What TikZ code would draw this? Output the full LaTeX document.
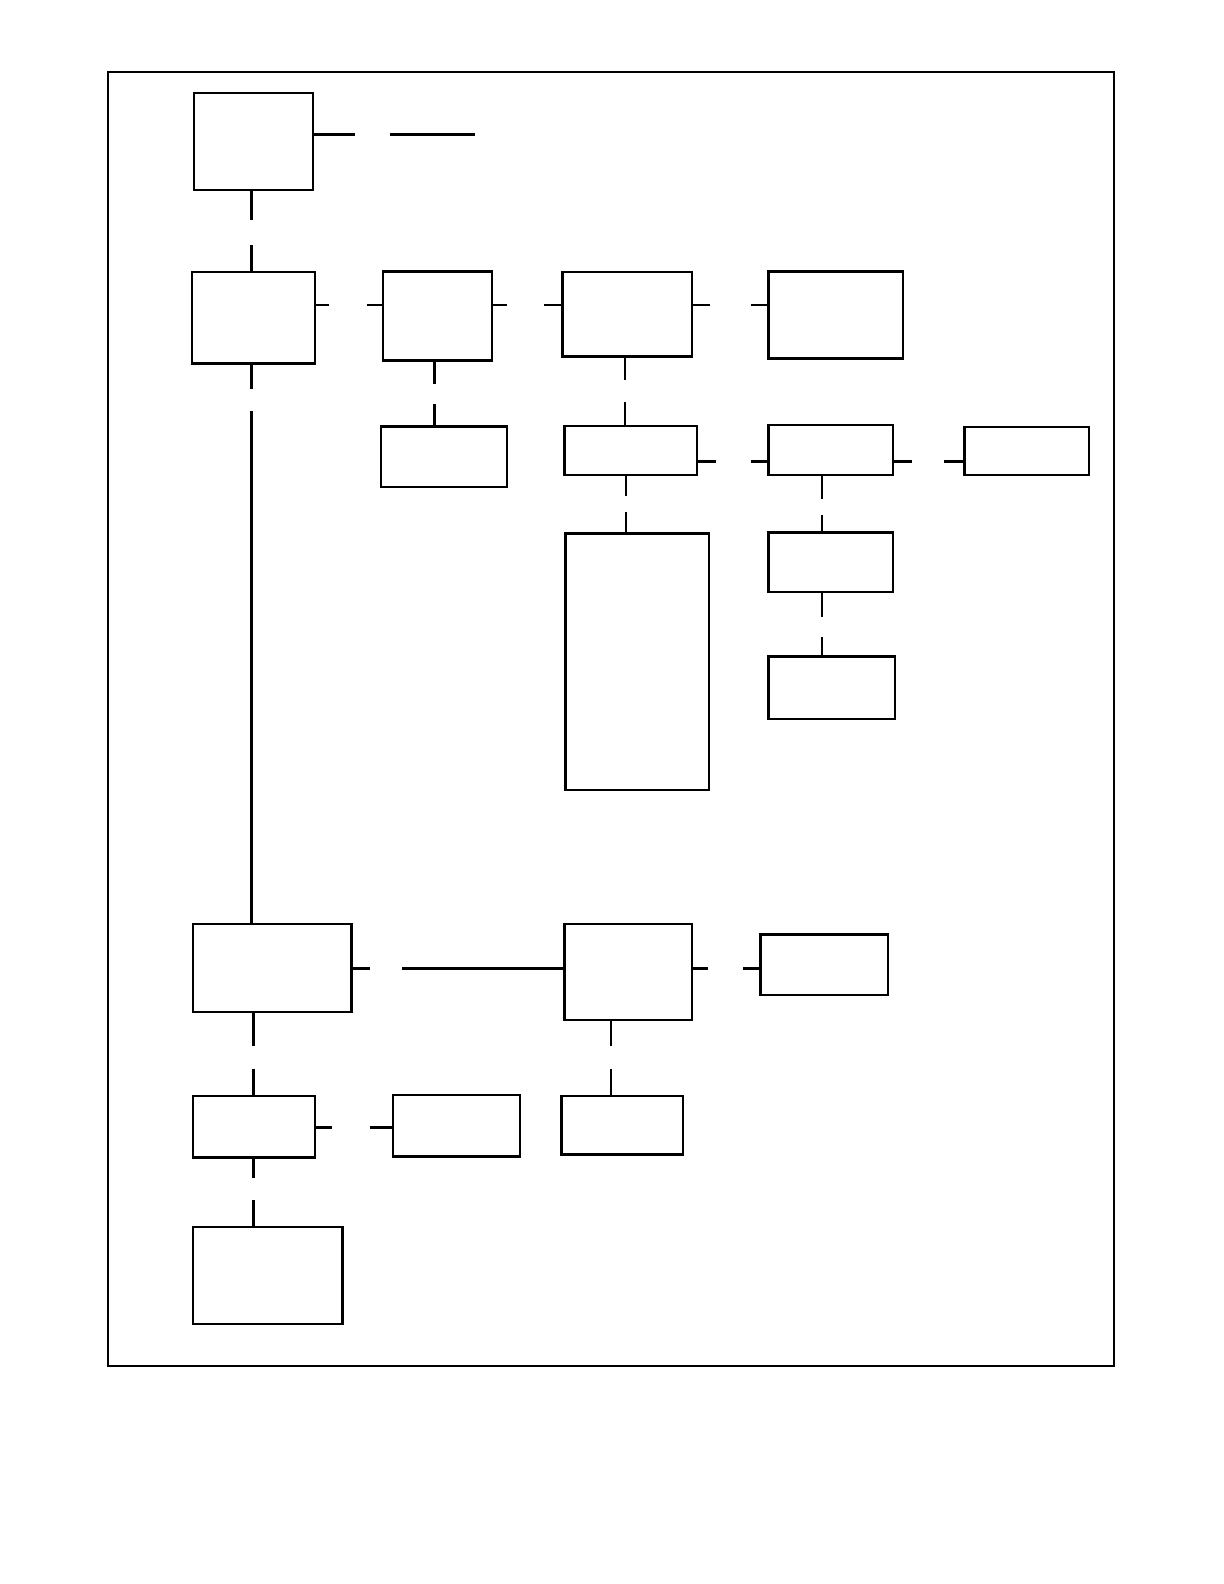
\documentclass[tikz,border=0pt]{standalone}
\begin{document}
\begin{tikzpicture}[x=0.0101cm,y=-0.0101cm,
  box/.style={draw, line width=0.7pt, inner sep=0pt, outer sep=0pt, rectangle},
  conn/.style={line width=0.7pt},
  frame/.style={line width=0.6pt}]
\useasboundingbox (0,0) rectangle (12.24cm,-15.84cm);
\draw[frame] (107,71) rectangle (1103,1352);
% boxes
\node[box, minimum width=1.192cm, minimum height=0.970cm] (A) at (251,140) {};
\node[box, minimum width=1.232cm, minimum height=0.919cm] (B) at (251,314.5) {};
\node[box, minimum width=1.091cm, minimum height=0.889cm] (C) at (433,313) {};
\node[box, minimum width=1.263cm, minimum height=0.606cm] (D) at (439.5,452) {};
\node[box, minimum width=1.293cm, minimum height=0.848cm] (E) at (621,311) {};
\node[box, minimum width=1.343cm, minimum height=0.869cm] (F) at (827.5,312) {};
\node[box, minimum width=1.323cm, minimum height=0.485cm] (G) at (624.5,446) {};
\node[box, minimum width=1.242cm, minimum height=0.495cm] (I) at (822.5,445.5) {};
\node[box, minimum width=1.242cm, minimum height=0.475cm] (J) at (1016.5,446.5) {};
\node[box, minimum width=1.434cm, minimum height=2.565cm] (K) at (631,655) {};
\node[box, minimum width=1.242cm, minimum height=0.596cm] (L) at (822.5,556.5) {};
\node[box, minimum width=1.263cm, minimum height=0.626cm] (M) at (823.5,681) {};
\node[box, minimum width=1.586cm, minimum height=0.879cm] (H) at (269.5,958.5) {};
\node[box, minimum width=1.273cm, minimum height=0.960cm] (N) at (622,962.5) {};
\node[box, minimum width=1.273cm, minimum height=0.606cm] (O) at (816,955) {};
\node[box, minimum width=1.212cm, minimum height=0.586cm] (P) at (616,1114) {};
\node[box, minimum width=1.222cm, minimum height=0.616cm] (Q) at (251.5,1115.5) {};
\node[box, minimum width=1.273cm, minimum height=0.616cm] (R) at (452,1114.5) {};
\node[box, minimum width=1.495cm, minimum height=0.970cm] (S) at (265,1263) {};
% gap coordinates
\coordinate (a1) at (351,133); \coordinate (a2) at (386,133); \coordinate (a3) at (470,133);
\coordinate (ab1) at (249,218); \coordinate (ab2) at (249,243);
\coordinate (bc1) at (326,302); \coordinate (bc2) at (363,302);
\coordinate (bh1) at (249,385); \coordinate (bh2) at (249,407);
\coordinate (ce1) at (502,302); \coordinate (ce2) at (539,302);
\coordinate (cd1) at (430,380); \coordinate (cd2) at (430,400);
\coordinate (ef1) at (703,302); \coordinate (ef2) at (743,302);
\coordinate (eg1) at (619,376); \coordinate (eg2) at (619,398);
\coordinate (gi1) at (709,457); \coordinate (gi2) at (743,457);
\coordinate (ij1) at (903,457); \coordinate (ij2) at (935,457);
\coordinate (gk1) at (620,491); \coordinate (gk2) at (620,507);
\coordinate (il1) at (814,494); \coordinate (il2) at (814,510);
\coordinate (lm1) at (814,611); \coordinate (lm2) at (814,631);
\coordinate (hn1) at (366,959); \coordinate (hn2) at (398,959);
\coordinate (no1) at (701,959); \coordinate (no2) at (736,959);
\coordinate (np1) at (605,1036); \coordinate (np2) at (605,1058);
\coordinate (hq1) at (251,1036); \coordinate (hq2) at (251,1058);
\coordinate (qr1) at (329,1116); \coordinate (qr2) at (366,1116);
\coordinate (qs1) at (251,1166); \coordinate (qs2) at (251,1188);
% connectors
\draw[conn] (A.east |- a1) -- (a1); \draw[conn] (a2) -- (a3);
\draw[conn] (ab1 |- A.south) -- (ab1); \draw[conn] (ab2) -- (ab2 |- B.north);
\draw[conn] (B.east |- bc1) -- (bc1); \draw[conn] (bc2) -- (C.west |- bc2);
\draw[conn] (bh1 |- B.south) -- (bh1); \draw[conn] (bh2) -- (bh2 |- H.north);
\draw[conn] (C.east |- ce1) -- (ce1); \draw[conn] (ce2) -- (E.west |- ce2);
\draw[conn] (cd1 |- C.south) -- (cd1); \draw[conn] (cd2) -- (cd2 |- D.north);
\draw[conn] (E.east |- ef1) -- (ef1); \draw[conn] (ef2) -- (F.west |- ef2);
\draw[conn] (eg1 |- E.south) -- (eg1); \draw[conn] (eg2) -- (eg2 |- G.north);
\draw[conn] (G.east |- gi1) -- (gi1); \draw[conn] (gi2) -- (I.west |- gi2);
\draw[conn] (I.east |- ij1) -- (ij1); \draw[conn] (ij2) -- (J.west |- ij2);
\draw[conn] (gk1 |- G.south) -- (gk1); \draw[conn] (gk2) -- (gk2 |- K.north);
\draw[conn] (il1 |- I.south) -- (il1); \draw[conn] (il2) -- (il2 |- L.north);
\draw[conn] (lm1 |- L.south) -- (lm1); \draw[conn] (lm2) -- (lm2 |- M.north);
\draw[conn] (H.east |- hn1) -- (hn1); \draw[conn] (hn2) -- (N.west |- hn2);
\draw[conn] (N.east |- no1) -- (no1); \draw[conn] (no2) -- (O.west |- no2);
\draw[conn] (np1 |- N.south) -- (np1); \draw[conn] (np2) -- (np2 |- P.north);
\draw[conn] (hq1 |- H.south) -- (hq1); \draw[conn] (hq2) -- (hq2 |- Q.north);
\draw[conn] (Q.east |- qr1) -- (qr1); \draw[conn] (qr2) -- (R.west |- qr2);
\draw[conn] (qs1 |- Q.south) -- (qs1); \draw[conn] (qs2) -- (qs2 |- S.north);
\end{tikzpicture}
\end{document}
